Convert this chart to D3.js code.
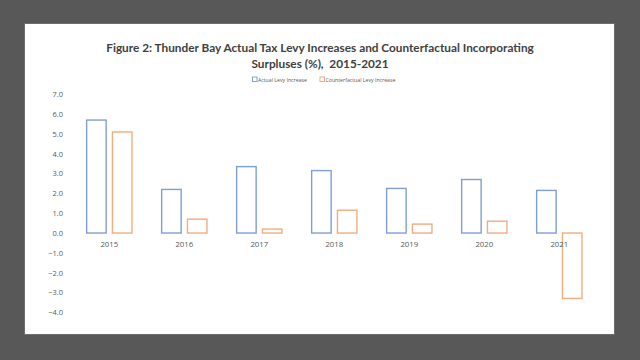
<!DOCTYPE html>
<html><head><meta charset="utf-8">
<script src="https://cdn.jsdelivr.net/npm/d3@7"></script>
<style>body{margin:0;background:#585858;}svg{display:block;}</style>
</head><body>
<svg id="c" width="640" height="360"></svg>
<script>
const years = ["2015","2016","2017","2018","2019","2020","2021"];
const actualLevy = [5.7, 2.2, 3.35, 3.15, 2.25, 2.7, 2.15];
const counterfactualLevy = [5.1, 0.7, 0.2, 1.15, 0.45, 0.6, -3.3];
const yTicks = [7,6,5,4,3,2,1,0,-1,-2,-3,-4];
const seriesNames = ["Actual Levy Increase","Counterfactual Levy Increase"];
const colors = ["#7f9fd4","#f2ac7e"];

const svg = d3.select("#c");
svg.append("rect").attr("x",24.5).attr("y",23.5).attr("width",590).attr("height",311)
  .attr("fill","#fff").attr("stroke","#6e6e6e").attr("stroke-width",1);

svg.append("text").attr("x",320).attr("y",52).attr("text-anchor","middle")
  .attr("font-family","Lato, sans-serif").attr("font-weight","bold").attr("font-size",11.8)
  .attr("fill","#404040").text("Figure 2: Thunder Bay Actual Tax Levy Increases and Counterfactual Incorporating");
svg.append("text").attr("x",320).attr("y",68).attr("text-anchor","middle")
  .attr("font-family","Lato, sans-serif").attr("font-weight","bold").attr("font-size",11.8)
  .attr("fill","#404040").attr("xml:space","preserve").text("Surpluses (%),  2015-2021");

const y = d3.scaleLinear().domain([-4,7]).range([312.3,94.3]);
const x = d3.scaleBand().domain(years).range([71.8,596.8]);
const bw = 19.5, gap = 6.3;

const yAxis = d3.axisLeft(y).tickValues(yTicks).tickFormat(d3.format(".1f")).tickSize(0).tickPadding(0);
const ga = svg.append("g").attr("transform","translate(63,0)").call(yAxis);
ga.select(".domain").remove();
ga.selectAll("text").attr("font-family","Open Sans, sans-serif").attr("font-size",7.5).attr("fill","#595959");

const data = [actualLevy, counterfactualLevy];
data.forEach((vals,si)=>{
  svg.append("g").selectAll("rect").data(years).join("rect")
    .attr("x",d=>x(d)+x.bandwidth()/2 + (si===0 ? -gap/2-bw : gap/2))
    .attr("y",(d,i)=>y(Math.max(0,vals[i])))
    .attr("width",bw)
    .attr("height",(d,i)=>Math.abs(y(vals[i])-y(0)))
    .attr("fill","none").attr("stroke",colors[si]).attr("stroke-width",1.4);
});

const xAxis = d3.axisBottom(x).tickSize(0).tickPadding(0);
const gx = svg.append("g").attr("transform",`translate(0,${y(0)+14})`).call(xAxis);
gx.select(".domain").remove();
gx.selectAll("text").attr("dy",0).attr("font-family","Open Sans, sans-serif").attr("font-size",7.8).attr("font-weight","normal").attr("fill","#595959");

const leg = svg.append("g");
const legX = [252.5, 320];
seriesNames.forEach((n,i)=>{
  leg.append("rect").attr("x",legX[i]).attr("y",77).attr("width",4.5).attr("height",4.5)
    .attr("fill","none").attr("stroke",colors[i]).attr("stroke-width",1);
  leg.append("text").attr("x",legX[i]+5.5).attr("y",81.5).attr("font-family","Open Sans, sans-serif")
    .attr("font-size",5.2).attr("fill","#595959").text(n);
});
</script>
</body></html>
